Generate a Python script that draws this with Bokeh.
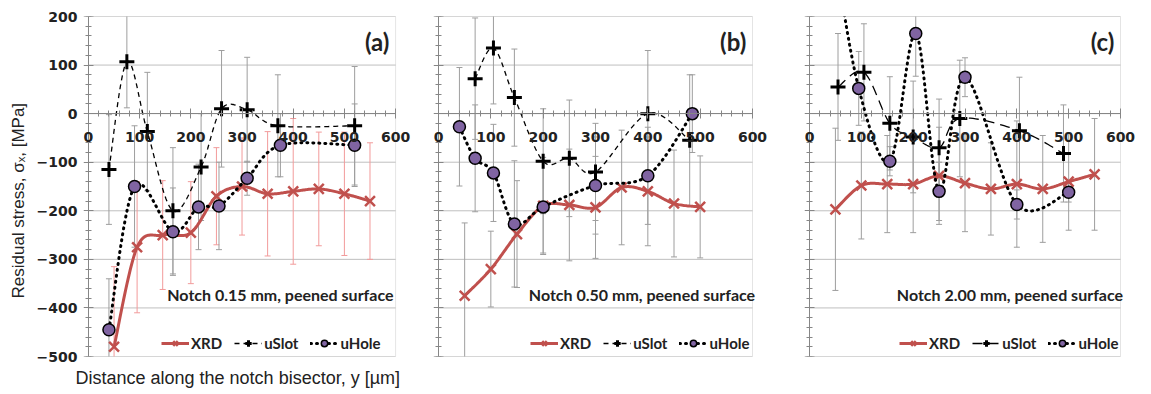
import numpy as np
from bokeh.plotting import figure
from bokeh.layouts import row
from bokeh.models import (Range1d, SingleIntervalTicker, Legend, LegendItem, Label, Title,
                          LinearAxis, BoxAnnotation)
from bokeh.embed import file_html
from bokeh.resources import INLINE

# ---------------- data ----------------
# Panel (a): notch 0.15 mm
xrd_a_x = [50, 95, 145, 200, 250, 300, 350, 400, 450, 500, 550]
xrd_a_y = [-480, -275, -250, -245, -170, -150, -165, -160, -155, -165, -180]
xrd_a_e = [165, 135, 112, 105, 100, 100, 128, 150, 117, 127, 120]
slot_a_x = [40, 75, 115, 165, 220, 260, 310, 370, 520]
slot_a_y = [-115, 107, -37, -200, -110, 10, 8, -25, -25]
slot_a_e = [113, 95, 122, 130, 110, 120, 108, 105, 122]
hole_a_x = [40, 90, 165, 215, 255, 310, 375, 520]
hole_a_y = [-445, -150, -243, -192, -190, -133, -65, -65]
hole_a_e = [105, 125, 90, 88, 90, 35, 65, 85]

# Panel (b): notch 0.50 mm
xrd_b_x = [50, 100, 150, 200, 250, 300, 350, 400, 450, 500]
xrd_b_y = [-375, -320, -248, -190, -188, -193, -152, -160, -185, -192]
xrd_b_e = [150, 78, 110, 100, 115, 105, 118, 112, 110, 105]
slot_b_x = [70, 105, 145, 200, 250, 300, 400, 480]
slot_b_y = [72, 135, 33, -98, -92, -120, 0, -55]
slot_b_e = [125, 115, 100, 108, 120, 100, 130, 135]
hole_b_x = [40, 70, 105, 145, 200, 300, 400, 485]
hole_b_y = [-27, -92, -122, -227, -192, -148, -128, 0]
hole_b_e = [122, 110, 100, 130, 95, 100, 100, 80]

# Panel (c): notch 2.00 mm
xrd_c_x = [50, 100, 150, 200, 250, 300, 350, 400, 450, 500, 550]
xrd_c_y = [-197, -148, -145, -145, -128, -143, -155, -145, -155, -140, -125]
xrd_c_e = [167, 110, 100, 100, 100, 100, 95, 130, 110, 100, 115]
slot_c_x = [55, 105, 155, 200, 250, 290, 405, 490]
slot_c_y = [55, 85, -20, -48, -70, -10, -35, -82]
slot_c_e = [110, 100, 96, 115, 100, 120, 110, 100]
hole_c_x = [45, 95, 155, 205, 250, 300, 400, 500]
hole_c_y = [350, 52, -98, 165, -160, 75, -187, -162]
hole_c_e = [90, 76, 30, 88, 60, 40, 30, 20]

x_tick_values = [0, 100, 200, 300, 400, 500, 600]
x_tick_labels = ["0", "100", "200", "300", "400", "500", "600"]
y_tick_values = [-500, -400, -300, -200, -100, 0, 100, 200]
X_MIN, X_MAX = 0, 600
Y_MIN, Y_MAX = -500, 200

RED = "#C0504D"
PURPLE = "#8064A2"
GRAY = "#9E9E9E"
PINK = "#F29B9B"
GRID = "#BFBFBF"
AXIS = "#868686"
TXT = "#222222"

SX, SY = 0.52, 0.487  # px per data unit (used for screen-space smoothing)


def smooth(xs, ys, n=24):
    P = np.column_stack([np.asarray(xs, float) * SX, np.asarray(ys, float) * SY])
    out = []
    m = len(P)
    for i in range(m - 1):
        p0 = P[i - 1] if i > 0 else P[i]
        p1, p2 = P[i], P[i + 1]
        p3 = P[i + 2] if i + 2 < m else P[i + 1]
        c1 = p1 + (p2 - p0) / 6.0
        c2 = p2 - (p3 - p1) / 6.0
        t = np.linspace(0, 1, n)[:, None]
        B = (1 - t) ** 3 * p1 + 3 * (1 - t) ** 2 * t * c1 + 3 * (1 - t) * t ** 2 * c2 + t ** 3 * p2
        out.append(B if i == 0 else B[1:])
    A = np.vstack(out)
    return A[:, 0] / SX, A[:, 1] / SY


def errbars(p, xs, ys, es, color):
    xs = np.asarray(xs, float); ys = np.asarray(ys, float); es = np.asarray(es, float)
    p.segment(x0=xs, y0=ys - es, x1=xs, y1=ys + es, line_color=color, line_width=1)
    p.scatter(x=xs, y=ys + es, marker="dash", size=6, line_color=color, line_width=1)
    p.scatter(x=xs, y=ys - es, marker="dash", size=6, line_color=color, line_width=1)


def style_axis(ax):
    ax.axis_line_color = AXIS
    ax.major_tick_line_color = AXIS
    ax.minor_tick_line_color = AXIS
    ax.major_tick_in = 5
    ax.major_tick_out = 5
    ax.minor_tick_in = 3
    ax.minor_tick_out = 3


def make_panel(tag, notch, xrd, slot, hole, xrd_err_color, slot_dash,
               left_border, span_px, right_border, show_y, xlabel, legend_x, notch_x):
    pad_l, pad_r = 5, 15                      # px of room for the end tick labels
    s = span_px / (X_MAX - X_MIN)
    fw = span_px + pad_l + pad_r
    p = figure(width=left_border + fw + right_border, height=396,
               x_range=Range1d(X_MIN - pad_l / s, X_MAX + pad_r / s),
               y_range=Range1d(Y_MIN, Y_MAX),
               x_axis_location=None, y_axis_location=None,
               output_backend="svg", toolbar_location=None,
               min_border_left=left_border, min_border_right=right_border,
               min_border_top=16, min_border_bottom=39,
               outline_line_color=None)
    p.grid.visible = False

    yt = SingleIntervalTicker(interval=100, num_minor_ticks=5)
    xt = SingleIntervalTicker(interval=100, num_minor_ticks=5)

    # horizontal grid lines at the y ticks, limited to the plot area
    n = len(y_tick_values)
    p.segment(x0=[X_MIN] * n, x1=[X_MAX] * n, y0=y_tick_values, y1=y_tick_values,
              line_color=GRID, line_width=1, level="underlay")
    # plot-area border
    p.add_layout(BoxAnnotation(left=X_MIN, right=X_MAX, bottom=Y_MIN, top=Y_MAX,
                               fill_alpha=0, line_color="#A6A6A6", line_width=1,
                               level="underlay"))

    # y axis line + ticks at x = 0
    yax = LinearAxis(ticker=yt, fixed_location=X_MIN,
                     major_label_overrides={v: "" for v in y_tick_values},
                     major_label_standoff=0)
    style_axis(yax)
    p.add_layout(yax, "left")

    # x axis line + ticks at y = 0
    xax = LinearAxis(ticker=xt, fixed_location=0, bounds=(X_MIN, X_MAX),
                     major_label_overrides={v: "" for v in x_tick_values})
    style_axis(xax)
    p.add_layout(xax, "below")

    if show_y:
        lab = LinearAxis(ticker=yt, axis_line_color=None, major_tick_line_color=None,
                         minor_tick_line_color=None, major_tick_out=0, major_tick_in=0,
                         minor_tick_out=0, minor_tick_in=0, major_label_standoff=6,
                         major_label_text_font="DejaVu Sans",
                         major_label_text_font_style="bold",
                         major_label_text_font_size="14px", major_label_text_color=TXT)
        p.add_layout(lab, "left")
        p.add_layout(Title(text="Residual stress, σₓ, [MPa]", align="left", offset=58,
                           text_font="Liberation Sans", text_font_style="normal",
                           text_font_size="17px", text_color=TXT, standoff=12), "left")

    # x tick labels under the axis line at y = 0
    for v, t in zip(x_tick_values, x_tick_labels):
        p.add_layout(Label(x=v, y=0, text=t, y_offset=-18,
                           text_align="center", text_baseline="top",
                           text_font="DejaVu Sans", text_font_style="bold",
                           text_font_size="14px", text_color=TXT))

    if xlabel:
        p.add_layout(Title(text=xlabel, align="left", offset=-8,
                           text_font="Liberation Sans",
                           text_font_style="normal", text_font_size="18px",
                           text_color=TXT, standoff=18), "below")

    # error bars
    errbars(p, xrd[0], xrd[1], xrd[2], xrd_err_color)
    errbars(p, slot[0], slot[1], slot[2], GRAY)
    errbars(p, hole[0], hole[1], hole[2], GRAY)

    # series
    sx, sy = smooth(xrd[0], xrd[1])
    r_xl = p.line(sx, sy, line_color=RED, line_width=3)
    r_xm = p.scatter(xrd[0], xrd[1], marker="x", size=14, line_color=RED, line_width=2.5)

    sx, sy = smooth(slot[0], slot[1])
    r_sl = p.line(sx, sy, line_color="black", line_width=1.3, line_dash=slot_dash)
    r_sm = p.scatter(slot[0], slot[1], marker="cross", size=15, line_color="black", line_width=3)

    sx, sy = smooth(hole[0], hole[1])
    r_hl = p.line(sx, sy, line_color="black", line_width=3, line_dash="1 5", line_cap="round")
    r_hm = p.scatter(hole[0], hole[1], marker="circle", size=12, fill_color=PURPLE,
                     line_color="black", line_width=1.5)

    leg = Legend(items=[LegendItem(label="XRD", renderers=[r_xl, r_xm]),
                        LegendItem(label="uSlot", renderers=[r_sl, r_sm]),
                        LegendItem(label="uHole", renderers=[r_hl, r_hm])],
                 orientation="horizontal", location=(legend_x, 4),
                 border_line_color=None, background_fill_alpha=0,
                 label_text_font="Lato", label_text_font_style="bold",
                 label_text_font_size="15px", label_text_color=TXT,
                 glyph_width=28, glyph_height=16, spacing=12, margin=0,
                 padding=4, label_standoff=2)
    p.add_layout(leg)

    p.add_layout(Label(x=588, y=148, text=tag, text_align="right", text_baseline="middle",
                       text_font="Lato", text_font_style="bold", text_font_size="24px",
                       text_color=TXT))
    p.add_layout(Label(x=notch_x, y=-372, text=notch, text_align="right", text_baseline="middle",
                       text_font="Lato", text_font_style="bold", text_font_size="16px",
                       text_color=TXT))
    return p


pa = make_panel("(a)", "Notch 0.15 mm, peened surface",
                (xrd_a_x, xrd_a_y, xrd_a_e), (slot_a_x, slot_a_y, slot_a_e),
                (hole_a_x, hole_a_y, hole_a_e), PINK, "5 4",
                81, 309, 2, True, "Distance along the notch bisector, y [µm]", 78, 596)
pb = make_panel("(b)", "Notch 0.50 mm, peened surface",
                (xrd_b_x, xrd_b_y, xrd_b_e), (slot_b_x, slot_b_y, slot_b_e),
                (hole_b_x, hole_b_y, hole_b_e), GRAY, "5 4",
                21, 314, 5, False, None, 97, 605)
pc = make_panel("(c)", "Notch 2.00 mm, peened surface",
                (xrd_c_x, xrd_c_y, xrd_c_e), (slot_c_x, slot_c_y, slot_c_e),
                (hole_c_x, hole_c_y, hole_c_e), GRAY, "10 6",
                32, 311, 0, False, None, 95, 605)

layout = row(pa, pb, pc)
open("out.html", "w").write(file_html(layout, INLINE))
